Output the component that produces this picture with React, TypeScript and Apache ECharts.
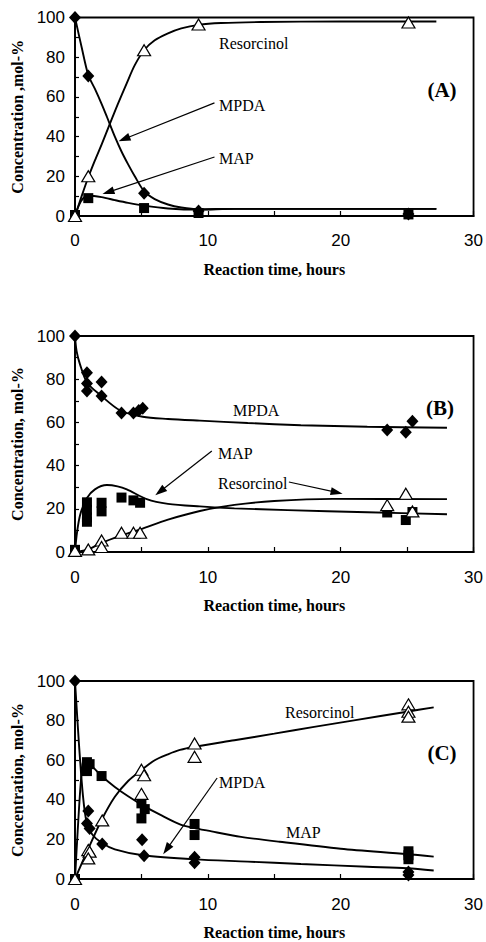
import React, { useEffect, useRef } from "react";
import * as echarts from "echarts";

// ---------- axis ticks ----------
const X_MIN = 0;
const X_MAX = 30;
const X_STEP = 10;
const Y_MIN = 0;
const Y_MAX = 100;
const Y_STEP = 20;

const xTitle = "Reaction time, hours";
const yTitles = ["Concentration ,mol-%", "Concentration, mol-%", "Concentration, mol-%"];
const panelTags = ["(A)", "(B)", "(C)"];

// ---------- Panel A ----------
const aMpdaObs = [[0, 100], [1, 70.5], [5.2, 11.5], [9.3, 2.5], [25.1, 1]];
const aMapObs = [[0, 0.5], [1, 9], [5.2, 4], [9.3, 1.5], [25.1, 0.8]];
const aResObs = [[0, 0], [1, 20], [5.2, 83.5], [9.3, 96.5], [25.1, 97.5]];

const aMpdaFit = [[0, 100], [0.5, 85], [1, 71], [1.5, 64], [2, 56.5], [2.4, 50], [3, 40], [3.5, 32.5], [4, 26], [4.5, 20], [5.2, 12.5], [6, 8.5], [7, 5.8], [8, 4.3], [9.3, 3.4], [12, 3.6], [20, 3.6], [27.2, 3.6]];
const aMapFit = [[0, 0], [0.3, 5.5], [0.6, 8.8], [1, 10.2], [2, 9.5], [3, 8], [4, 6.6], [5.2, 5.2], [7, 3.8], [9.3, 3.2], [12, 3.6], [20, 3.6], [27.2, 3.6]];
const aResFit = [[0, 0], [0.5, 10], [1, 19.5], [1.5, 28], [2, 36], [2.6, 46], [3.2, 56], [3.9, 67], [4.5, 76], [5.2, 83.5], [6, 88.5], [7, 92], [8, 94.5], [9.3, 96.3], [11, 97.2], [14, 97.7], [20, 98], [27.2, 98]];

// ---------- Panel B ----------
const bMpdaObs = [[0, 100], [0.9, 83], [0.9, 78], [0.9, 74.5], [2, 78.7], [2, 72.2], [3.5, 64.3], [4.4, 64.3], [4.8, 65.5], [5.1, 66.5], [23.5, 56.5], [24.9, 55.4], [25.4, 60.5]];
const bMapObs = [[0, 1], [0.9, 23], [0.9, 19.5], [0.9, 16], [0.9, 14], [2, 22.8], [2, 18.8], [3.5, 25.2], [4.4, 23.9], [4.9, 22.8], [23.5, 18.3], [24.9, 14.8], [25.4, 18.5]];
const bResObs = [[0, 0.5], [1, 1.2], [2, 5.3], [2, 2.3], [3.5, 8.9], [4.4, 8.9], [4.9, 8.9], [23.5, 21.7], [24.9, 27], [25.4, 18.8]];

const bMpdaFit = [[0, 100], [0.12, 93], [0.37, 87], [0.9, 78.5], [1.9, 72.7], [3.4, 65.5], [5.1, 62.6], [7, 61.6], [9.4, 60.8], [13, 59.7], [17, 58.7], [22, 58], [28, 57.5]];
const bMapFit = [[0, 0], [0.15, 9], [0.4, 17.5], [0.9, 25], [1.5, 29], [2.4, 31], [3.2, 30.4], [3.9, 29], [5.4, 24.5], [7, 22.3], [9.4, 21.1], [12, 20.2], [16, 19.4], [22, 18.4], [28, 17.5]];
const bResFit = [[0, 0], [1, 1.2], [1.9, 4], [3.4, 7.5], [4.9, 10.5], [7, 15], [9.4, 19], [12, 21.8], [15, 23.6], [19.4, 24.6], [28, 24.5]];

// ---------- Panel C ----------
const cMpdaObs = [[0, 100], [1, 34.3], [0.9, 28], [1.1, 25.5], [2.05, 17.7], [5.05, 19.8], [5.2, 11.8], [9, 11], [9, 8.2], [25.1, 3.5], [25.1, 2]];
const cMapObs = [[0, 0], [0.9, 59], [1.1, 58], [0.9, 54.5], [2, 52], [5, 38.2], [5, 30.6], [5.25, 35.3], [9, 27.8], [9, 22.2], [25.1, 14], [25.1, 12], [25.1, 10]];
const cResObs = [[0, 0], [1, 14.6], [1.1, 13.8], [1, 10.4], [2.05, 29.6], [5, 55.2], [5.2, 52.4], [5, 43], [9, 68.4], [9, 61.7], [25.1, 88.2], [25.1, 84.5], [25.1, 82]];

const cMpdaFit = [[0, 100], [0.3, 68], [0.6, 42], [0.88, 28.5], [1.3, 22.5], [2, 18.3], [3, 15], [5.1, 12], [9, 9.9], [13, 8.8], [17, 7.6], [22, 6.2], [25, 5.4], [27, 4.3]];
const cMapFit = [[0, 0], [0.2, 24], [0.45, 50], [0.65, 60], [1, 58.5], [1.5, 55.5], [2, 52], [3, 46.5], [4, 41.8], [5.1, 37.2], [6.4, 32.5], [7.9, 27.6], [9, 25.7], [10, 24.4], [12.5, 21.3], [15.4, 18.8], [20, 15.3], [25, 12.6], [27, 11.3]];
const cResFit = [[0, 0], [1, 15.3], [2, 29.8], [3, 41.5], [4, 49.5], [5, 55], [6, 60], [7, 63], [7.9, 65.2], [9, 66.8], [12, 70.1], [15, 73.4], [18, 76.8], [21, 80.1], [25, 84.5], [27, 86.7]];

// ---------- arrows (data coordinates: from label to target) ----------
const arrowsA = [[[10.5, 57], [3.7, 38.8]], [[10.5, 29.7], [2.5, 12]]];
const arrowsB = [[[10.3, 46.8], [6.4, 28]], [[16.1, 32.4], [19.7, 27.6]]];
const arrowsC = [[[10.7, 51], [6.9, 15]]];

const obsSets = [
  [aMpdaObs, aMapObs, aResObs],
  [bMpdaObs, bMapObs, bResObs],
  [cMpdaObs, cMapObs, cResObs],
];
const fitSets = [
  [aMpdaFit, aMapFit, aResFit],
  [bMpdaFit, bMapFit, bResFit],
  [cMpdaFit, cMapFit, cResFit],
];
const arrowSets = [arrowsA, arrowsB, arrowsC];

// layout (pixels)
const gridsLayout = [
  { left: 75, top: 17.5, width: 400, height: 198.5 },
  { left: 75, top: 336, width: 400, height: 216 },
  { left: 75, top: 681, width: 400, height: 198 },
];
const labelMargins = [16, 17, 17];

const SERIF = "'Liberation Serif', 'Times New Roman', serif";
const SANS = "'Liberation Sans', Arial, sans-serif";

const textEls: any[] = [
  // A
  { x: 219, y: 43, t: "Resorcinol" },
  { x: 219, y: 105, t: "MPDA" },
  { x: 219, y: 158, t: "MAP" },
  // B
  { x: 233, y: 410, t: "MPDA" },
  { x: 218, y: 453, t: "MAP" },
  { x: 218, y: 483, t: "Resorcinol" },
  // C
  { x: 285, y: 712, t: "Resorcinol" },
  { x: 219, y: 782, t: "MPDA" },
  { x: 286, y: 832, t: "MAP" },
];
const tagPos = [
  { x: 442, y: 90 },
  { x: 440, y: 408 },
  { x: 442, y: 753 },
];

export default function App() {
  const ref = useRef<HTMLDivElement>(null);
  useEffect(() => {
    document.body.style.margin = "0";
    if (!ref.current) return;
    const chart = echarts.init(ref.current, undefined, { renderer: "svg" });

    const grid = gridsLayout.map((g) => ({
      ...g,
      show: true,
      borderColor: "#000",
      borderWidth: 1.8,
      backgroundColor: "transparent",
    }));

    const xAxis = gridsLayout.map((_, i) => ({
      type: "value",
      gridIndex: i,
      min: X_MIN,
      max: X_MAX,
      interval: X_STEP,
      axisLine: { show: true, lineStyle: { color: "#000", width: 1.8 } },
      axisTick: { show: true, inside: true, length: 5, lineStyle: { color: "#000", width: 1.2 } },
      minorTick: { show: true, splitNumber: 2, length: 5, lineStyle: { color: "#000", width: 1.2 } },
      splitLine: { show: false },
      axisLabel: { color: "#000", fontSize: 17, fontFamily: SANS, margin: labelMargins[i] },
      name: xTitle,
      nameLocation: "middle",
      nameGap: 45,
      nameTextStyle: { color: "#000", fontSize: 16, fontWeight: "bold", fontFamily: SERIF },
    }));

    const yAxis = gridsLayout.map((_, i) => ({
      type: "value",
      gridIndex: i,
      min: Y_MIN,
      max: Y_MAX,
      interval: Y_STEP,
      axisLine: { show: true, lineStyle: { color: "#000", width: 1.8 } },
      axisTick: { show: true, inside: true, length: 4, lineStyle: { color: "#000", width: 1.2 } },
      minorTick: { show: true, splitNumber: 2, length: 4, lineStyle: { color: "#000", width: 1.2 } },
      splitLine: { show: false },
      axisLabel: { color: "#000", fontSize: 17, fontFamily: SANS, margin: 10 },
      name: yTitles[i],
      nameLocation: "middle",
      nameGap: 50,
      nameRotate: 90,
      nameTextStyle: { color: "#000", fontSize: 16, fontWeight: "bold", fontFamily: SERIF },
    }));

    const series: any[] = [];
    for (let i = 0; i < 3; i++) {
      const [mpdaFit, mapFit, resFit] = fitSets[i];
      [mpdaFit, mapFit, resFit].forEach((d, k) => {
        series.push({
          type: "line",
          xAxisIndex: i,
          yAxisIndex: i,
          data: d,
          smooth: 0.3,
          showSymbol: false,
          clip: false,
          lineStyle: { color: "#000", width: 1.9 },
          z: 2,
          silent: true,
          markLine:
            k === 0
              ? {
                  silent: true,
                  symbol: ["none", "triangle"],
                  symbolSize: [8, 12],
                  lineStyle: { color: "#000", width: 1.2, type: "solid" },
                  label: { show: false },
                  data: arrowSets[i].map((a) => [{ coord: a[0] }, { coord: a[1] }]),
                }
              : undefined,
        });
      });
      const [mpdaObs, mapObs, resObs] = obsSets[i];
      series.push({
        type: "scatter",
        xAxisIndex: i,
        yAxisIndex: i,
        data: mapObs,
        symbol: "rect",
        symbolSize: 10,
        clip: false,
        itemStyle: { color: "#000", opacity: 1 },
        z: 3,
      });
      series.push({
        type: "scatter",
        xAxisIndex: i,
        yAxisIndex: i,
        data: mpdaObs,
        symbol: "diamond",
        symbolSize: [12, 13],
        clip: false,
        itemStyle: { color: "#000", opacity: 1 },
        z: 4,
      });
      series.push({
        type: "scatter",
        xAxisIndex: i,
        yAxisIndex: i,
        data: resObs,
        symbol: "triangle",
        symbolSize: [13, 11],
        clip: false,
        itemStyle: { color: "#fff", borderColor: "#000", borderWidth: 1.2, opacity: 1 },
        z: 5,
      });
    }

    const graphic: any[] = [
      ...textEls.map((e) => ({
        type: "text",
        x: e.x,
        y: e.y,
        silent: true,
        style: { text: e.t, fill: "#000", font: `16px ${SERIF}`, align: "left", verticalAlign: "middle" },
      })),
      ...tagPos.map((p, i) => ({
        type: "text",
        x: p.x,
        y: p.y,
        silent: true,
        style: { text: panelTags[i], fill: "#000", font: `bold 21px ${SERIF}`, align: "center", verticalAlign: "middle" },
      })),
    ];

    chart.setOption({
      animation: false,
      backgroundColor: "#fff",
      grid,
      xAxis,
      yAxis,
      series,
      graphic,
    });
    return () => chart.dispose();
  }, []);
  return <div ref={ref} style={{ width: 486, height: 942 }} />;
}
